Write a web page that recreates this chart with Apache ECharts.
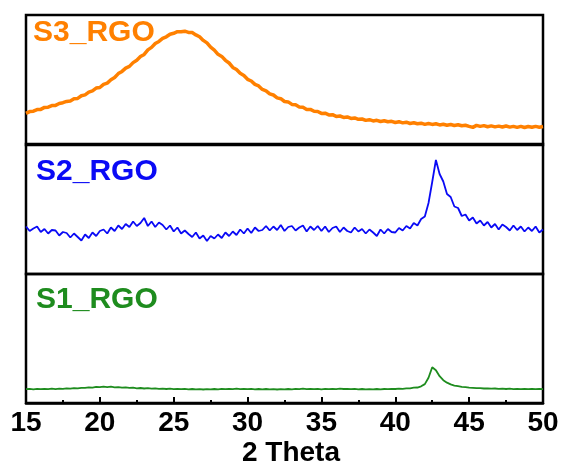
<!DOCTYPE html>
<html><head><meta charset="utf-8">
<script src="https://cdn.jsdelivr.net/npm/echarts@6/dist/echarts.min.js"></script>
<style>html,body{margin:0;padding:0;background:#fff}#c{width:562px;height:466px}</style>
</head><body><div id="c"></div>
<script>
const theta = [
15,15.25,15.5,15.75,16,16.25,16.5,16.75,17,17.25,17.5,17.75,18,18.25,18.5,18.75,
19,19.25,19.5,19.75,20,20.25,20.5,20.75,21,21.25,21.5,21.75,22,22.25,22.5,22.75,
23,23.25,23.5,23.75,24,24.25,24.5,24.75,25,25.25,25.5,25.75,26,26.25,26.5,26.75,
27,27.25,27.5,27.75,28,28.25,28.5,28.75,29,29.25,29.5,29.75,30,30.25,30.5,30.75,
31,31.25,31.5,31.75,32,32.25,32.5,32.75,33,33.25,33.5,33.75,34,34.25,34.5,34.75,
35,35.25,35.5,35.75,36,36.25,36.5,36.75,37,37.25,37.5,37.75,38,38.25,38.5,38.75,
39,39.25,39.5,39.75,40,40.25,40.5,40.75,41,41.25,41.5,41.75,42,42.25,42.5,42.75,
43,43.25,43.5,43.75,44,44.25,44.5,44.75,45,45.25,45.5,45.75,46,46.25,46.5,46.75,
47,47.25,47.5,47.75,48,48.25,48.5,48.75,49,49.25,49.5,49.75,50];

const s3 = [
31.7,33.4,33.8,35.4, 35.6,37.6,37.8,39.4, 39.6,41.5,42.3,43.6, 44.1,46.3,46.6,49.2,
50.1,52.9,54.1,56.9, 57.5,60.6,61.9,65.3, 67.5,71.4,73.6,76.9, 78.6,82.4,84.8,88.5,
90.6,95.1,97.6,101.5, 103.6,106.6,108.2,110.8, 111.7,113.3,113.2,113.8, 112.6,112.4,110.1,108.2,
104.6,102.1,97.8,94.9, 90.7,88.6,84.7,82, 77.6,75.5,71.7,69.5, 65.7,64,60.6,59.1,
55.6,54.2,51.1,50, 47.1,46.3,43.5,43.1, 40.6,40.3,38.1,37.7, 35.5,35.6,33.7,33.5,
31.6,31.8,30.1,30.3, 28.6,29,27.6,28.1, 26.6,27.1,25.7,26, 24.6,25.3,24.1,24.7,
23.5,24.3,23.2,23.7, 22.5,23.3,22.1,22.8, 21.5,22.2,21.2,21.8, 20.6,21.5,20.6,21.2,
20.1,20.7,19.7,20.5, 19.5,20.3,19.2,19.7, 18.6,17.6,19.6,18.6, 19.4,18.3,19.1,18.1,
18.9,18,19,17.9, 18.6,17.6,18.6,17.5, 18.5,17.7,18.6,17.8, 18.4];

const s2 = [
47.5,43,45.5,47.5, 42,45,40.5,44, 43.5,38.5,42,41, 36.5,40.5,37,33.5,
39.5,36,41.5,38, 43,44.5,40.5,46.5, 43,48.5,45,50, 47,52.5,48,51,
56,48,52.5,47, 51.5,49,44.5,48.5, 42.5,46.5,40.5,43.5, 40,37,41.5,35.5,
38.5,33,38,35.5, 39.5,36,41.5,38, 42.5,39,44.5,40.5, 45.5,41,46.5,43,
44,48,43.5,47.5, 44,49,43,47, 48,43.5,46.5,48.5, 42.5,47.5,44,48,
43,47.5,42,46, 47.5,42,46.5,43, 41.5,46.5,42.5,45, 40.5,44.5,41.5,38,
44.5,40.5,45,42, 41.5,46,43.5,48, 45.5,51,48.5,55, 57.5,71,92,114,
100,92.5,80,77, 67.5,66,58,59.5, 53.5,56.5,50.5,53.5, 48.5,52,46.5,50,
44.5,49.5,47,43.5, 48.5,44,47.5,42.5, 46.5,43,47.5,41.5, 44.5];

const s1 = [
14,14.3,13.8,14.2, 13.9,14.3,14,14.4, 14,14.5,14.2,14.7, 14.4,15,14.7,15.3,
15.2,15.8,15.5,16.2, 15.9,16.5,16.1,16.4, 15.8,16.1,15.5,15.8, 15.2,15.4,14.8,15.1,
14.6,14.9,14.4,14.7, 14.2,14.5,14.1,14.4, 14,14.3,13.9,14.2, 13.8,14.1,13.7,14,
13.6,14,13.7,14.1, 13.8,14.2,13.9,14.3, 14,14.4,14,14.3, 13.9,14.2,13.8,14.1,
13.7,14.1,13.7,14, 13.6,14,13.7,14.1, 13.8,14.2,13.9,14.4, 14,14.3,13.9,14.2,
13.8,14.2,13.9,14.3, 14,14.4,14.1,14.3, 13.9,14.2,13.8,14.1, 13.7,14,13.7,14.1,
13.8,14.1,13.9,14.3, 14.1,14.5,14.3,14.8, 14.7,15.4,15.6,16.8, 19,25.5,36,33,
27,23,20.5,18.8, 17.6,16.9,16.2,15.9, 15.5,15.3,14.9,15, 14.6,14.8,14.4,14.6,
14.2,14.5,14.1,14.4, 14,14.3,14,14.2, 13.9,14.2,13.9,14.2, 14];

const seriesNames = ['S3_RGO', 'S2_RGO', 'S1_RGO'];
const xTickLabels = ['15','20','25','30','35','40','45','50'];
const xTitle = '2 Theta';

const colors = ['#FF8000', '#0A0AF5', '#1E8C1E'];
const widths = [3.5, 1.8, 1.8];
const FONT = 'Liberation Sans, Arial, sans-serif';
const zip = v => theta.map((t, i) => [t, v[i]]);
const allData = [s3, s2, s1];

const grids = [
  {left: 26, right: 19, top: 15, height: 130},
  {left: 26, right: 19, top: 144, height: 130},
  {left: 26, right: 19, top: 274, height: 129}
].map(g => Object.assign(g, {show: true, borderColor: '#000', borderWidth: 2.5, backgroundColor: 'transparent', outerBoundsMode: 'none', containLabel: false}));

const xAxes = [0, 1, 2].map(i => ({
  type: 'value', gridIndex: i, min: 15, max: 50, interval: 5,
  show: i === 2,
  axisLine: {show: true, lineStyle: {color: '#000', width: 2.5}},
  axisTick: {show: true, inside: true, length: 6, lineStyle: {color: '#000', width: 2}},
  minorTick: {show: true, splitNumber: 2, length: 3, lineStyle: {color: '#000', width: 2}},
  splitLine: {show: false},
  axisLabel: {show: true, margin: 6, color: '#000', fontFamily: FONT, fontWeight: 'bold', fontSize: 28,
    formatter: v => xTickLabels[Math.round((v - 15) / 5)] || ''},
  name: i === 2 ? xTitle : '',
  nameLocation: 'middle', nameGap: 36,
  nameTextStyle: {color: '#000', fontFamily: FONT, fontWeight: 'bold', fontSize: 28, padding: [0, 0, 0, 13]}
}));

const yAxes = [0, 1, 2].map(i => ({type: 'value', gridIndex: i, min: 0, max: 130, show: false, splitLine: {show: false}}));

const series = allData.map((v, i) => ({
  name: seriesNames[i], type: 'line', xAxisIndex: i, yAxisIndex: i,
  data: zip(v), showSymbol: false, symbol: 'none', smooth: false,
  lineStyle: {color: colors[i], width: widths[i]}, animation: false, clip: true
}));

const labelTop = [18, 157, 284.5];
const labelX = [33, 36, 36];
const graphic = seriesNames.map((n, i) => ({
  type: 'text', left: labelX[i], top: labelTop[i],
  style: {text: n, fill: colors[i], font: 'bold 30px ' + FONT}
}));

const chart = echarts.init(document.getElementById('c'), null, {renderer: 'canvas'});
chart.setOption({
  animation: false,
  backgroundColor: '#fff',
  grid: grids, xAxis: xAxes, yAxis: yAxes, series: series, graphic: graphic
});
</script></body></html>
